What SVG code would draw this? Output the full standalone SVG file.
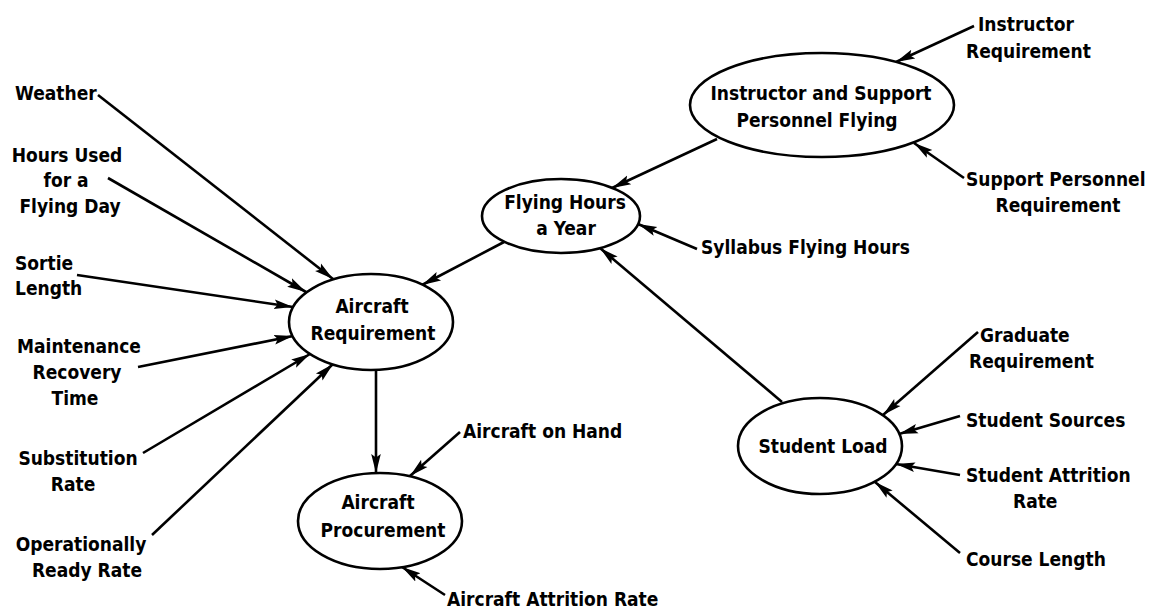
<svg xmlns="http://www.w3.org/2000/svg" width="1156" height="615" viewBox="0 0 1156 615">
<defs>
<style>
text{font-family:"DejaVu Sans Condensed","DejaVu Sans",sans-serif;font-stretch:condensed;font-weight:bold;font-size:19px;fill:#000}
.m{text-anchor:middle}
ellipse{fill:#fff;stroke:#000;stroke-width:2.6}
.c line{stroke:#000;stroke-width:2.6;marker-end:url(#ah)}
</style>
<marker id="ah" markerUnits="userSpaceOnUse" markerWidth="22" markerHeight="12" refX="19" refY="6" orient="auto">
<path d="M0,1.2 L19,6 L0,10.8 L3.5,6 z" fill="#000"/>
</marker>
</defs>
<rect width="1156" height="615" fill="#fff"/>

<g id="connectors" class="c">
<line x1="98" y1="95" x2="333" y2="279"/>
<line x1="108" y1="178" x2="306" y2="292"/>
<line x1="77" y1="275" x2="293" y2="307"/>
<line x1="138" y1="367" x2="293" y2="336"/>
<line x1="143" y1="453" x2="310" y2="354"/>
<line x1="152" y1="535" x2="333" y2="364"/>
<line x1="376" y1="370" x2="376" y2="473"/>
<line x1="460" y1="432" x2="410" y2="476"/>
<line x1="445" y1="595" x2="402" y2="567"/>
<line x1="504" y1="242" x2="422" y2="285"/>
<line x1="717" y1="139" x2="612" y2="188"/>
<line x1="697" y1="249" x2="638" y2="224"/>
<line x1="782" y1="402" x2="600" y2="248"/>
<line x1="974" y1="26" x2="896" y2="62"/>
<line x1="964" y1="178" x2="914" y2="143"/>
<line x1="978" y1="332" x2="883" y2="415"/>
<line x1="960" y1="416" x2="899" y2="434"/>
<line x1="960" y1="475" x2="896" y2="464"/>
<line x1="960" y1="553" x2="875" y2="482"/>
</g>

<g id="node-instructor-support-flying">
<ellipse cx="822" cy="105" rx="132" ry="52"/>
<text class="m" x="821" y="100">Instructor and Support</text>
<text class="m" x="817" y="127">Personnel Flying</text>
</g>
<g id="node-flying-hours">
<ellipse cx="561" cy="216" rx="79" ry="37"/>
<text class="m" x="565" y="209">Flying Hours</text>
<text class="m" x="566" y="235">a Year</text>
</g>
<g id="node-aircraft-requirement">
<ellipse cx="371" cy="322" rx="82" ry="48"/>
<text class="m" x="372" y="313">Aircraft</text>
<text class="m" x="373" y="340">Requirement</text>
</g>
<g id="node-aircraft-procurement">
<ellipse cx="380" cy="521" rx="82" ry="48"/>
<text class="m" x="378" y="509">Aircraft</text>
<text class="m" x="383" y="537">Procurement</text>
</g>
<g id="node-student-load">
<ellipse cx="820" cy="446" rx="82" ry="48"/>
<text class="m" x="823" y="453">Student Load</text>
</g>

<g id="label-weather"><text x="15" y="100">Weather</text></g>
<g id="label-hours-used">
<text class="m" x="67" y="162">Hours Used</text>
<text class="m" x="66" y="187">for a</text>
<text class="m" x="70" y="213">Flying Day</text>
</g>
<g id="label-sortie-length">
<text x="15" y="270">Sortie</text>
<text x="15" y="295">Length</text>
</g>
<g id="label-maintenance">
<text class="m" x="79" y="353">Maintenance</text>
<text class="m" x="77" y="379">Recovery</text>
<text class="m" x="75" y="405">Time</text>
</g>
<g id="label-substitution">
<text class="m" x="78" y="465">Substitution</text>
<text class="m" x="73" y="491">Rate</text>
</g>
<g id="label-operationally">
<text class="m" x="81" y="551">Operationally</text>
<text class="m" x="87" y="577">Ready Rate</text>
</g>
<g id="label-aircraft-on-hand"><text x="463" y="438">Aircraft on Hand</text></g>
<g id="label-aircraft-attrition"><text x="447" y="606">Aircraft Attrition Rate</text></g>
<g id="label-syllabus"><text x="701" y="254">Syllabus Flying Hours</text></g>
<g id="label-instructor-requirement">
<text x="978" y="31">Instructor</text>
<text x="966" y="58">Requirement</text>
</g>
<g id="label-support-requirement">
<text x="966" y="186">Support Personnel</text>
<text class="m" x="1058" y="212">Requirement</text>
</g>
<g id="label-graduate">
<text x="980" y="342">Graduate</text>
<text x="969" y="368">Requirement</text>
</g>
<g id="label-student-sources"><text x="966" y="427">Student Sources</text></g>
<g id="label-student-attrition">
<text x="966" y="482">Student Attrition</text>
<text x="1013" y="508">Rate</text>
</g>
<g id="label-course-length"><text x="966" y="566">Course Length</text></g>
</svg>
